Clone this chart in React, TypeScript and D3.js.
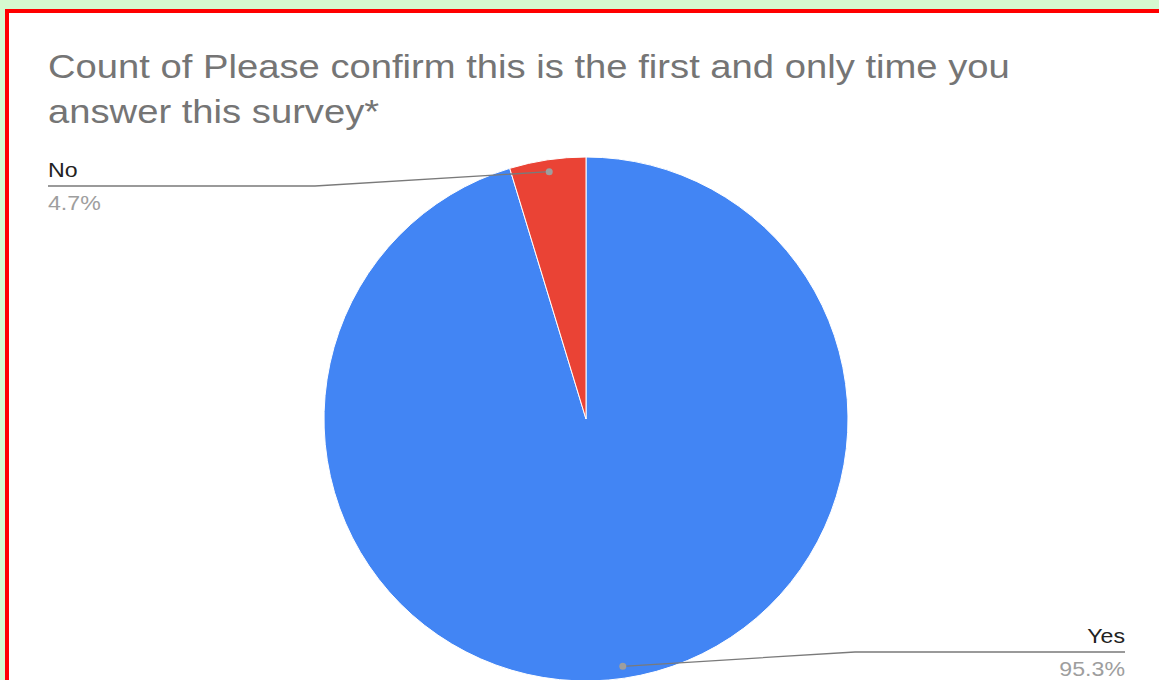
import { useEffect, useRef } from "react";
import * as d3 from "d3";

const categories = ["Yes", "No"];
const counts = [95.3, 4.7];
const sliceColors = ["#4285f4", "#ea4335"];
const titleLines = [
  "Count of Please confirm this is the first and only time you",
  "answer this survey*",
];

const W = 1159;
const H = 680;
// reference text renders noticeably wider than Liberation Sans at the same height
const STRETCH = 1.158;

export default function App() {
  const svgRef = useRef<SVGSVGElement>(null);

  useEffect(() => {
    if (!svgRef.current) return;
    const svg = d3.select(svgRef.current);
    svg.selectAll("*").remove();

    // page background + red frame (open on the right / bottom)
    svg.append("rect").attr("width", W).attr("height", H).attr("fill", "#d5f9cf");
    svg.append("rect").attr("x", 5).attr("y", 9).attr("width", W).attr("height", H)
      .attr("fill", "#ffffff");
    svg.append("rect").attr("x", 5).attr("y", 9).attr("width", W).attr("height", 4).attr("fill", "#ff0000");
    svg.append("rect").attr("x", 5).attr("y", 9).attr("width", 4).attr("height", H).attr("fill", "#ff0000");

    const font = "Arial, 'Liberation Sans', sans-serif";

    svg.append("g").selectAll("text")
      .data(titleLines)
      .join("text")
      .attr("transform", (d, i) => `translate(48,${78 + i * 45}) scale(${STRETCH},1)`)
      .attr("font-family", font)
      .attr("font-size", 33)
      .attr("fill", "#757575")
      .text(d => d);

    const cx = 586, cy = 419, r = 262;
    const data = categories.map((c, i) => ({ name: c, value: counts[i], color: sliceColors[i] }));
    const total = d3.sum(counts);

    const pie = d3.pie<typeof data[number]>().sort(null).value(d => d.value);
    const arcs = pie(data);
    const arc = d3.arc<d3.PieArcDatum<typeof data[number]>>().innerRadius(0).outerRadius(r);

    const g = svg.append("g").attr("transform", `translate(${cx},${cy})`);
    g.selectAll("path")
      .data(arcs)
      .join("path")
      .attr("d", arc)
      .attr("fill", d => d.data.color)
      .attr("stroke", "#ffffff")
      .attr("stroke-width", 1);

    // callouts: dot inside the slice, elbow line out to the label
    const dotR = r - 12;
    const labelSpec: Record<string, { anchor: "start" | "end"; x: number; lineY: number; elbowX: number }> = {
      No: { anchor: "start", x: 48, lineY: 186, elbowX: 315 },
      Yes: { anchor: "end", x: 1125, lineY: 652, elbowX: 855 },
    };

    arcs.forEach(a => {
      const mid = (a.startAngle + a.endAngle) / 2;
      const px = cx + dotR * Math.sin(mid);
      const py = cy - dotR * Math.cos(mid);
      const s = labelSpec[a.data.name];

      svg.append("polyline")
        .attr("points", `${px},${py} ${s.elbowX},${s.lineY} ${s.x},${s.lineY}`)
        .attr("fill", "none")
        .attr("stroke", "#7a7a7a")
        .attr("stroke-width", 1.3);
      svg.append("circle").attr("cx", px).attr("cy", py).attr("r", 3.5).attr("fill", "#9e9e9e");

      svg.append("text")
        .attr("transform", `translate(${s.x},${s.lineY - 9}) scale(${STRETCH},1)`)
        .attr("text-anchor", s.anchor)
        .attr("font-family", font)
        .attr("font-size", 20)
        .attr("fill", "#222222")
        .text(a.data.name);
      svg.append("text")
        .attr("transform", `translate(${s.x},${s.lineY + 24}) scale(${STRETCH},1)`)
        .attr("text-anchor", s.anchor)
        .attr("font-family", font)
        .attr("font-size", 20)
        .attr("fill", "#9e9e9e")
        .text(d3.format(".1%")(a.data.value / total));
    });
  }, []);

  return (
    <div style={{ position: "fixed", left: 0, top: 0, width: W, height: H, overflow: "hidden" }}>
      <svg ref={svgRef} width={W} height={H} style={{ display: "block" }} />
    </div>
  );
}
